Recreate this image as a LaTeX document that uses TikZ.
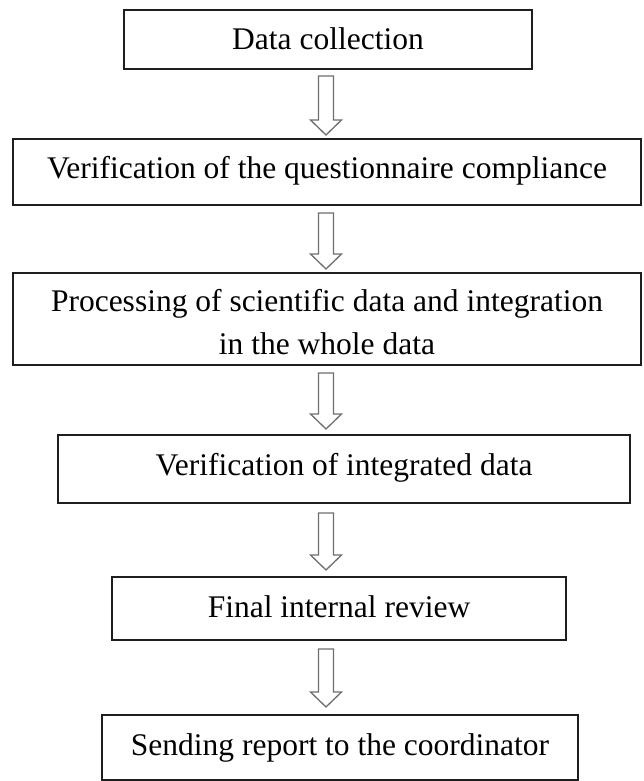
\documentclass[tikz,border=0pt]{standalone}
\usepackage{fontspec}
\setmainfont{Liberation Serif}
\usetikzlibrary{calc}
\definecolor{boxline}{HTML}{1E1E1E}
\definecolor{arrowline}{HTML}{6E6E6E}
\begin{document}
\begin{tikzpicture}[x=1pt,y=-1pt,
  stage/.style={draw=boxline, line width=1.6pt, inner sep=0pt, outer sep=0pt,
    font=\fontsize{31.5}{43}\selectfont, text depth=0pt},
  % hollow block arrow from one box to the next; #1 = gap below the upper box, #2 = gap above the lower box
  blockarrow/.style 2 args={draw=arrowline, fill=white, line width=1.3pt, line join=miter,
    to path={let \p1=(\tikztostart), \p2=(\tikztotarget) in
      ({\x1-7.5pt},{\y1-#1}) -- ({\x1-7.5pt},{\y2+#2+15pt}) -- ({\x1-15.5pt},{\y2+#2+15pt})
      -- (\x1,{\y2+#2}) -- ({\x1+15.5pt},{\y2+#2+15pt}) -- ({\x1+7.5pt},{\y2+#2+15pt})
      -- ({\x1+7.5pt},{\y1-#1}) -- cycle}}]
\useasboundingbox (0,0) rectangle (643,781);
\coordinate (ax) at (326,0);

\node[stage, minimum width=408pt, minimum height=59pt, text height=21pt] (b1) at (328,39.5) {Data collection};
\node[stage, minimum width=628pt, minimum height=66pt, text height=12pt] (b2) at (327,172) {Verification of the questionnaire compliance};
\node[stage, align=center, minimum width=628pt, minimum height=92pt, text height=, text depth=] (b3) at (327,319)
  {\rule{0pt}{29pt}Processing of scientific data and integration\\in the whole data};
\node[stage, minimum width=572pt, minimum height=68pt, text height=12pt] (b4) at (344,469) {Verification of integrated data};
\node[stage, minimum width=454pt, minimum height=63pt, text height=17pt] (b5) at (339,608.5) {Final internal review};
\node[stage, minimum width=476pt, minimum height=65pt, text height=15pt] (b6) at (340,747.5) {Sending report to the coordinator};

\draw[blockarrow={7pt}{4pt}] (b1.south -| ax) to (b2.north -| ax);
\draw[blockarrow={8pt}{4pt}] (b2.south -| ax) to (b3.north -| ax);
\draw[blockarrow={8pt}{6pt}] (b3.south -| ax) to (b4.north -| ax);
\draw[blockarrow={10pt}{7pt}] (b4.south -| ax) to (b5.north -| ax);
\draw[blockarrow={9pt}{8pt}] (b5.south -| ax) to (b6.north -| ax);
\end{tikzpicture}
\end{document}
